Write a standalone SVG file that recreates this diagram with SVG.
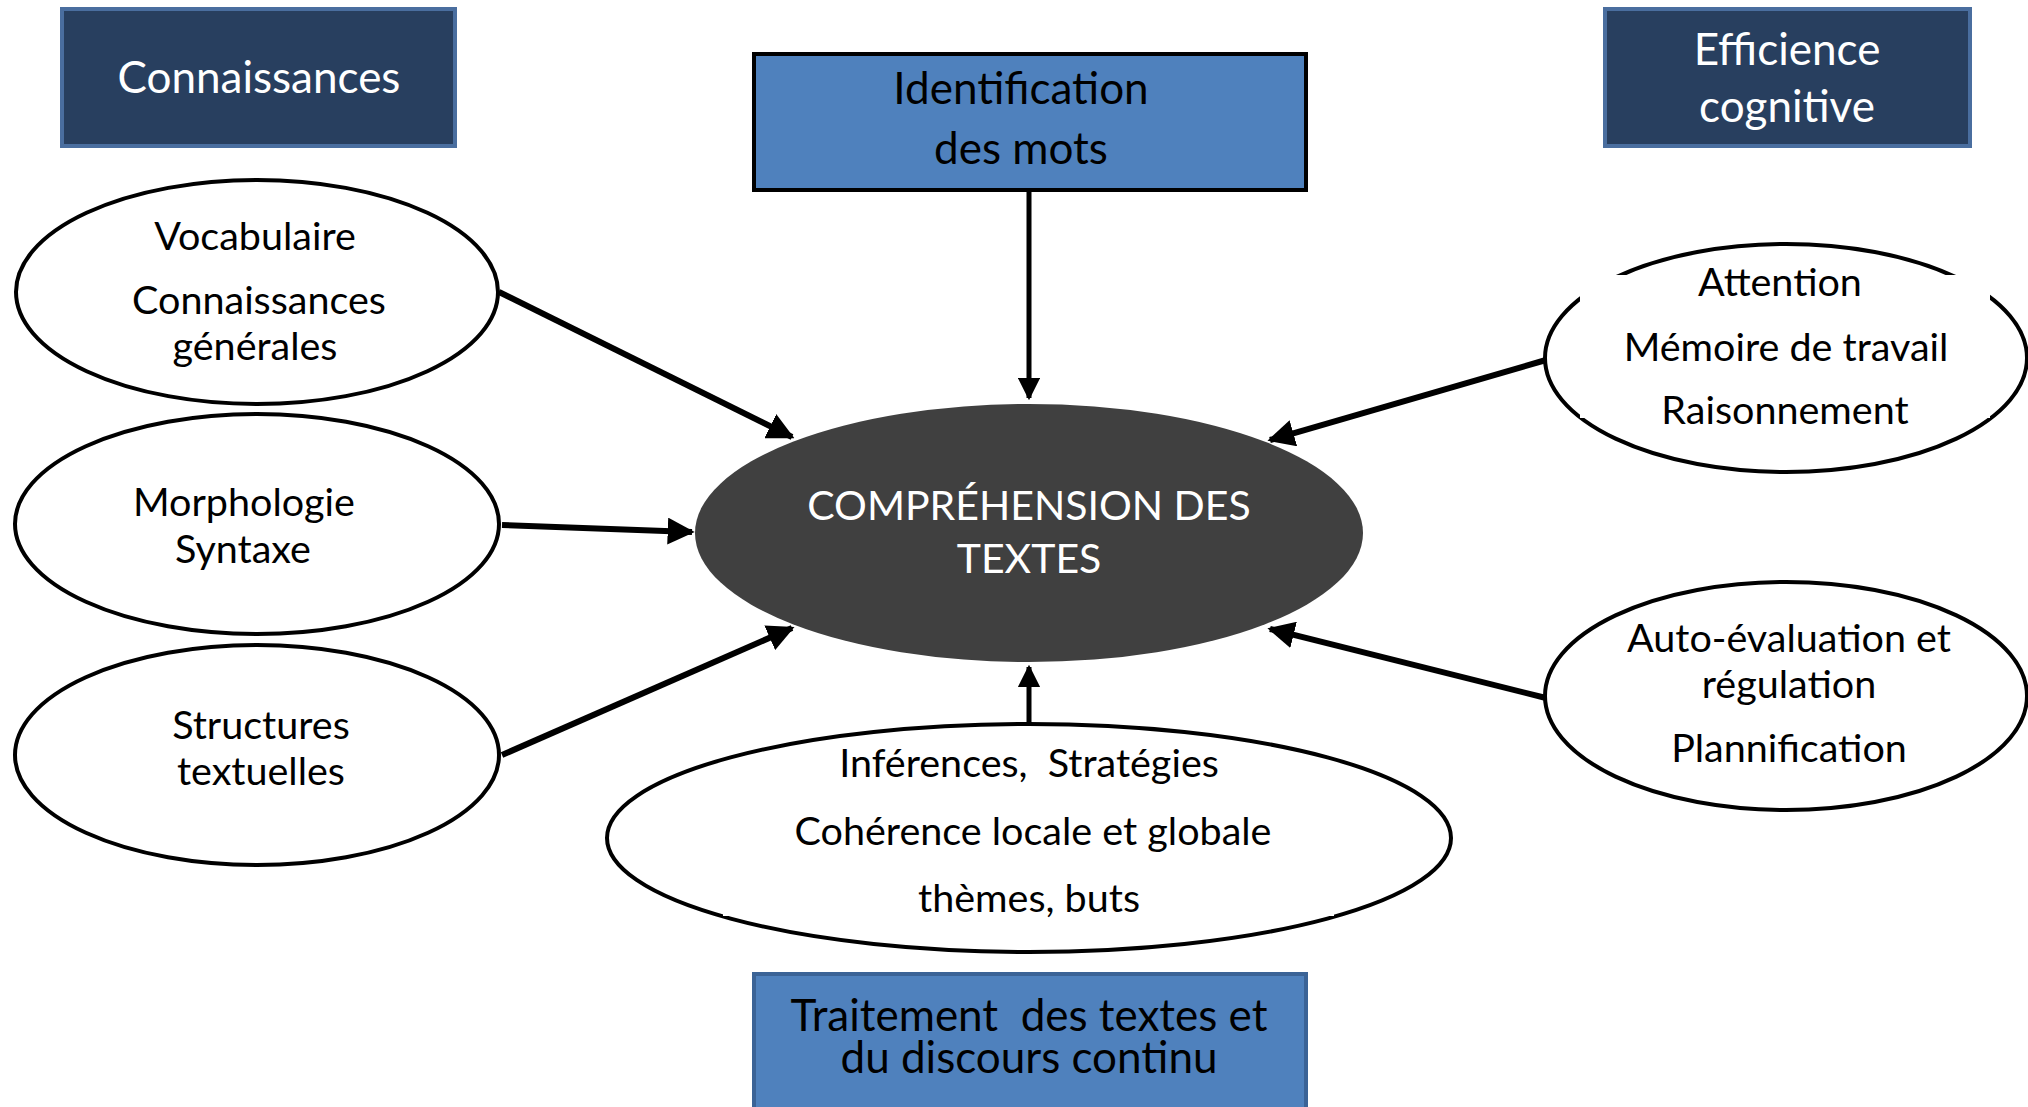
<svg xmlns="http://www.w3.org/2000/svg" width="2028" height="1107" viewBox="0 0 2028 1107">
<style>
.t{font-family:Lato,"Open Sans","Liberation Sans",sans-serif;text-anchor:middle}
.h{font-size:44px;fill:#ffffff}
.c{font-size:41px;fill:#ffffff}
.b{font-size:44px;fill:#000000}
.e{font-size:39.5px;fill:#000000}
.ell{fill:#ffffff;stroke:#000000;stroke-width:4}
.navy{fill:#283f5f;stroke:#4a6e9f;stroke-width:4}
.con{stroke:#000000;fill:none}
</style>
<defs>
<marker id="ah" viewBox="0 0 10 10" refX="9" refY="5" markerWidth="4.5" markerHeight="4.5" markerUnits="strokeWidth" orient="auto">
<path d="M0,0 L10,5 L0,10 Z" fill="#000000"/>
</marker>
</defs>

<g id="connaissances">
<rect class="navy" x="62" y="9" width="393" height="137"/>
<text class="t h" x="259" y="93">Connaissances</text>
</g>

<g id="efficience">
<rect class="navy" x="1605" y="9" width="365" height="137"/>
<text class="t h" x="1787" y="65">Efficience</text>
<text class="t h" x="1787" y="122">cognitive</text>
</g>

<g id="identification">
<rect x="754" y="54" width="552" height="136" fill="#4f81bd" stroke="#000000" stroke-width="4"/>
<text class="t b" x="1021" y="104">Identification</text>
<text class="t b" x="1021" y="164">des mots</text>
</g>

<g id="comprehension">
<ellipse cx="1029" cy="533" rx="334" ry="129" fill="#404040"/>
<text class="t c" x="1029" y="520">COMPRÉHENSION DES</text>
<text class="t c" x="1029" y="573">TEXTES</text>
</g>

<g id="vocabulaire">
<ellipse class="ell" cx="257" cy="292" rx="241" ry="112"/>
<text class="t e" x="255" y="250">Vocabulaire</text>
<text class="t e" x="259" y="314">Connaissances</text>
<text class="t e" x="255" y="360">générales</text>
</g>

<g id="morphologie">
<ellipse class="ell" cx="257" cy="524" rx="242" ry="110"/>
<text class="t e" x="244" y="516">Morphologie</text>
<text class="t e" x="243" y="563">Syntaxe</text>
</g>

<g id="structures">
<ellipse class="ell" cx="257" cy="755" rx="242" ry="110"/>
<text class="t e" x="261" y="739">Structures</text>
<text class="t e" x="261" y="785">textuelles</text>
</g>

<g id="inferences">
<ellipse class="ell" cx="1029" cy="838" rx="422" ry="114"/>
<rect x="723" y="766" width="611" height="150" fill="#ffffff"/>
<text class="t e" x="1029" y="777" xml:space="preserve">Inférences,  Stratégies</text>
<text class="t e" x="1033" y="845">Cohérence locale et globale</text>
<text class="t e" x="1029" y="912">thèmes, buts</text>
</g>

<g id="attention">
<ellipse class="ell" cx="1786" cy="358" rx="241" ry="114"/>
<rect x="1580" y="275" width="410" height="143" fill="#ffffff"/>
<text class="t e" x="1780" y="296">Attention</text>
<text class="t e" x="1786" y="361">Mémoire de travail</text>
<text class="t e" x="1785" y="424">Raisonnement</text>
</g>

<g id="autoevaluation">
<ellipse class="ell" cx="1786" cy="696" rx="241" ry="114"/>
<text class="t e" x="1789" y="652">Auto-évaluation et</text>
<text class="t e" x="1789" y="698">régulation</text>
<text class="t e" x="1789" y="762">Plannification</text>
</g>

<g id="traitement">
<rect x="754" y="974" width="552" height="140" fill="#4f81bd" stroke="#3b6396" stroke-width="4"/>
<text class="t b" x="1029" y="1031" xml:space="preserve">Traitement  des textes et</text>
<text class="t b" x="1029" y="1073">du discours continu</text>
</g>

<g id="connectors">
<line class="con" x1="1029" y1="190" x2="1029" y2="398" stroke-width="5" marker-end="url(#ah)"/>
<line class="con" x1="499" y1="292" x2="792" y2="437" stroke-width="6" marker-end="url(#ah)"/>
<line class="con" x1="502" y1="525" x2="692" y2="532" stroke-width="6" marker-end="url(#ah)"/>
<line class="con" x1="502" y1="755" x2="792" y2="628" stroke-width="6" marker-end="url(#ah)"/>
<line class="con" x1="1029" y1="725" x2="1029" y2="667" stroke-width="5" marker-end="url(#ah)"/>
<line class="con" x1="1546" y1="360" x2="1270" y2="440" stroke-width="6" marker-end="url(#ah)"/>
<line class="con" x1="1546" y1="698" x2="1270" y2="629" stroke-width="6" marker-end="url(#ah)"/>
</g>
</svg>
